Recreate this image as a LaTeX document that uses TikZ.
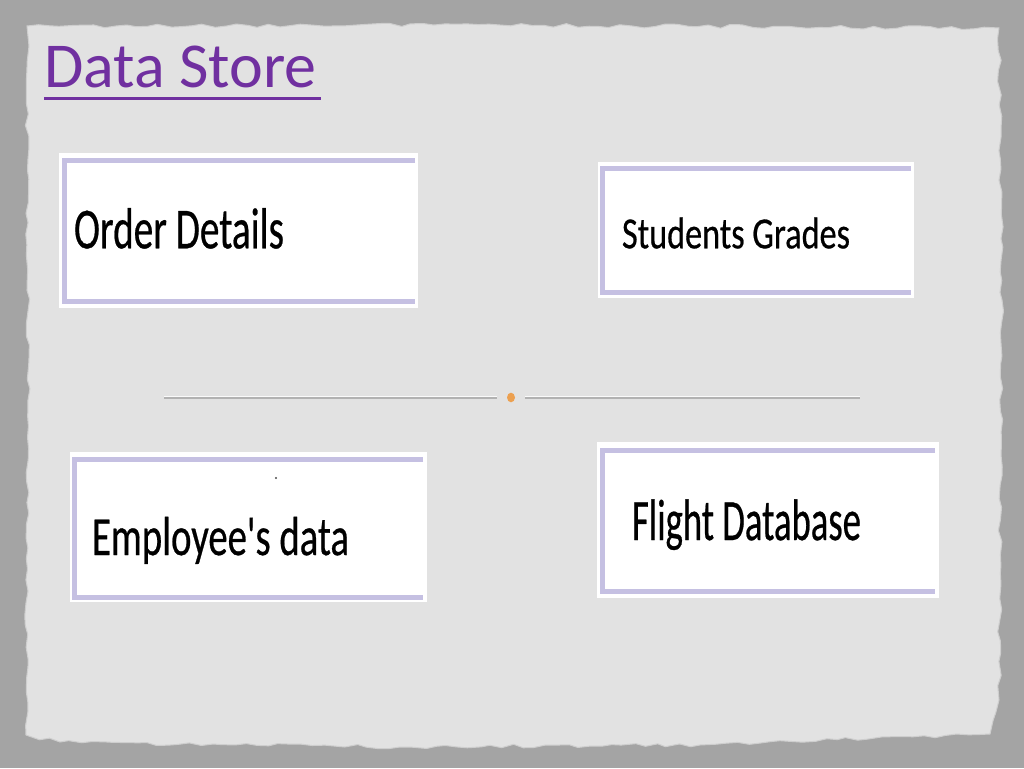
\documentclass[tikz,border=0pt]{standalone}
\usepackage{fontspec}
\setmainfont{Carlito}
\newfontfamily\boxfont[FakeBold=0.6]{Carlito}
\usetikzlibrary{decorations.pathmorphing}
\definecolor{bggray}{RGB}{164,164,164}
\definecolor{paper}{RGB}{226,226,226}
\definecolor{paperedge}{RGB}{206,206,206}
\definecolor{lav}{RGB}{197,192,226}
\definecolor{titlepurple}{RGB}{112,48,160}
\definecolor{dotorange}{RGB}{236,160,80}
\definecolor{rulegray}{RGB}{178,178,178}
\tikzset{
  storebox/.style={fill=white, draw=none, inner sep=0pt, outer sep=0pt},
  lavband/.style={draw=lav, line width=5pt, line join=miter},
  storetext/.style={anchor=base west, inner sep=0pt, outer sep=0pt, text=black},
  rulewhite/.style={draw=white!96!gray, line width=1pt},
  ruleshadow/.style={draw=rulegray, line width=1.2pt}
}
\begin{document}
\begin{tikzpicture}[x=1pt,y=-1pt]
\useasboundingbox (0,0) rectangle (1024,768);
\fill[bggray] (0,0) rectangle (1024,768);
\pgfmathsetseed{4242}
% paper
\fill[paper, draw=paperedge, line width=1pt,
  decorate, decoration={random steps, segment length=11pt, amplitude=2pt}]
  (27,26) -- (500,25) -- (999,28) -- (1002,300) -- (999,700) -- (990,734)
  -- (700,745) -- (400,747) -- (60,742) -- (26,735) -- (28,400) -- cycle;

% title
\node[anchor=base west, inner sep=0pt, text=titlepurple] (title) at (44,87.5)
  {\fontsize{64pt}{66pt}\selectfont Data Store};
\draw[titlepurple, line width=3.5pt] (44,98.5) -- (321,98.5);

% box 1: Order Details
\fill[storebox] (59,153) rectangle (418,308);
\draw[lavband] (415,160.5) -- (64.7,160.5) -- (64.7,301.7) -- (415,301.7);
\node[storetext] (od) at (74,248.3)
  {\resizebox{210pt}{\height}{\boxfont\fontsize{58pt}{60pt}\selectfont Order Details}};

% box 2: Students Grades
\fill[storebox] (598,162) rectangle (914,298);
\draw[lavband] (911,168.5) -- (602,168.5) -- (602,292.5) -- (911,292.5);
\node[storetext] (sg) at (622,248.3)
  {\resizebox{228pt}{\height}{\boxfont\fontsize{44.5pt}{46pt}\selectfont Students Grades}};

% box 3: Employee's data
\fill[storebox] (70,452) rectangle (427,602);
\draw[lavband] (423,459.5) -- (74,459.5) -- (74,597.5) -- (423,597.5);
\node[storetext] (ed) at (92,555)
  {\resizebox{257pt}{\height}{\boxfont\fontsize{55pt}{57pt}\selectfont Employee\char"0027 s data}};
\fill[black!70] (276,478) circle (1.1pt);

% box 4: Flight Database
\fill[storebox] (597,442) rectangle (939,598);
\draw[lavband] (935,450.5) -- (602.5,450.5) -- (602.5,591.5) -- (935,591.5);
\node[storetext] (fd) at (632,540)
  {\resizebox{229pt}{\height}{\boxfont\fontsize{58.5pt}{60pt}\selectfont Flight Database}};

% divider
\draw[ruleshadow] (164,398) -- (497,398);
\draw[rulewhite] (164,396.8) -- (497,396.8);
\draw[ruleshadow] (525,398) -- (860,398);
\draw[rulewhite] (525,396.8) -- (860,396.8);
\fill[dotorange] (511,397.5) ellipse (4pt and 4.8pt);
\end{tikzpicture}
\end{document}
